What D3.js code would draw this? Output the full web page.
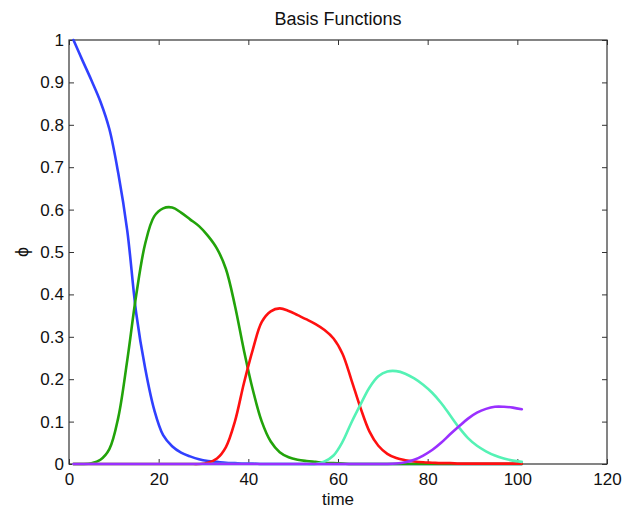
<!DOCTYPE html>
<html>
<head>
<meta charset="utf-8">
<script src="https://cdn.jsdelivr.net/npm/d3@7"></script>
<style>
  html, body { margin: 0; padding: 0; background: #fff; }
  svg { display: block; }
  text { font-family: "Liberation Sans", Arial, Helvetica, sans-serif; fill: #111; }
</style>
</head>
<body>
<svg id="chart" width="623" height="508"></svg>
<script>
// ---- data ----
const time = [1,3,5,7,9,11,13,15,17,19,21,23,25,27,29,31,33,35,37,39,41,43,45,47,49,51,53,55,57,59,61,63,65,67,69,71,73,75,77,79,81,83,85,87,89,91,93,95,97,99,101];
const phi1 = [1.0,0.952,0.905,0.855,0.79,0.685,0.55,0.355,0.225,0.128,0.068,0.042,0.027,0.018,0.011,0.007,0.005,0.003,0.002,0.001,0.001,0,0,0,0,0,0,0,0,0,0,0,0,0,0,0,0,0,0,0,0,0,0,0,0,0,0,0,0,0,0];
const phi2 = [0,0,0.002,0.01,0.035,0.11,0.245,0.399,0.52,0.584,0.603,0.605,0.593,0.577,0.561,0.538,0.508,0.46,0.374,0.269,0.175,0.10,0.053,0.028,0.016,0.01,0.007,0.005,0.003,0.002,0.001,0,0,0,0,0,0,0,0,0,0,0,0,0,0,0,0,0,0,0,0];
const phi3 = [0,0,0,0,0,0,0,0,0,0,0,0,0,0,0,0.003,0.013,0.04,0.10,0.19,0.27,0.335,0.36,0.367,0.361,0.351,0.341,0.33,0.316,0.296,0.26,0.198,0.133,0.077,0.043,0.024,0.014,0.009,0.006,0.004,0.003,0.002,0.002,0.001,0.001,0.001,0.001,0.001,0.001,0.001,0.001];
const phi4 = [0,0,0,0,0,0,0,0,0,0,0,0,0,0,0,0,0,0,0,0,0,0,0,0,0,0,0,0,0.006,0.02,0.052,0.098,0.14,0.18,0.207,0.218,0.219,0.213,0.202,0.187,0.168,0.144,0.115,0.086,0.061,0.043,0.03,0.02,0.013,0.008,0.005];
const phi5 = [0,0,0,0,0,0,0,0,0,0,0,0,0,0,0,0,0,0,0,0,0,0,0,0,0,0,0,0,0,0,0,0,0,0,0,0,0.001,0.004,0.01,0.02,0.033,0.05,0.07,0.089,0.107,0.121,0.13,0.135,0.135,0.133,0.129];
const seriesColors = ["#3040ff", "#22a30a", "#ff1010", "#55f2b5", "#9a30ff"];
const xTicks = [0,20,40,60,80,100,120];
const yTicks = [0,0.1,0.2,0.3,0.4,0.5,0.6,0.7,0.8,0.9,1];
const titleText = "Basis Functions";
const xLabel = "time";
const yLabel = "\u03D5";

// ---- layout ----
const mLeft = 69, mRight = 607, mTop = 40, mBottom = 464;
const svg = d3.select("#chart");
const x = d3.scaleLinear().domain([0, 120]).range([mLeft, mRight]);
const y = d3.scaleLinear().domain([0, 1]).range([mBottom, mTop]);

const axisColor = "#333";
const tickFont = 17;

function styleAxis(g) {
  g.select(".domain").remove();
  g.selectAll(".tick line").attr("stroke", axisColor).attr("stroke-width", 1);
  g.selectAll(".tick text").attr("font-size", tickFont).attr("fill", "#111")
    .attr("font-family", "'Liberation Sans', Arial, sans-serif");
}

// bottom axis
svg.append("g").attr("transform", `translate(0,${mBottom})`)
  .call(d3.axisBottom(x).tickValues(xTicks).tickFormat(d3.format("d")).tickSizeInner(-5).tickSizeOuter(0).tickPadding(9))
  .call(styleAxis);
// top axis (ticks only)
svg.append("g").attr("transform", `translate(0,${mTop})`)
  .call(d3.axisTop(x).tickValues(xTicks).tickFormat("").tickSizeInner(-5).tickSizeOuter(0))
  .call(styleAxis);
// left axis
svg.append("g").attr("transform", `translate(${mLeft},0)`)
  .call(d3.axisLeft(y).tickValues(yTicks).tickFormat(d => d === 0 || d === 1 ? d3.format("d")(d) : d3.format(".1f")(d)).tickSizeInner(-5).tickSizeOuter(0).tickPadding(5))
  .call(styleAxis);
// right axis (ticks only)
svg.append("g").attr("transform", `translate(${mRight},0)`)
  .call(d3.axisRight(y).tickValues(yTicks).tickFormat("").tickSizeInner(-5).tickSizeOuter(0))
  .call(styleAxis);

// box
svg.append("rect")
  .attr("x", mLeft).attr("y", mTop)
  .attr("width", mRight - mLeft).attr("height", mBottom - mTop)
  .attr("fill", "none").attr("stroke", axisColor).attr("stroke-width", 1.2);

// lines
const allSeries = [phi1, phi2, phi3, phi4, phi5];
const line = d3.line()
  .x((d, i) => x(time[i]))
  .y(d => y(Math.max(0, d)))
  .curve(d3.curveCatmullRom.alpha(0.5));

svg.append("g").selectAll("path")
  .data(allSeries)
  .join("path")
  .attr("d", d => line(d))
  .attr("fill", "none")
  .attr("stroke", (d, i) => seriesColors[i])
  .attr("stroke-width", 2.6)
  .attr("stroke-linejoin", "round")
  .attr("stroke-linecap", "round");

// title & labels
svg.append("text").attr("x", (mLeft + mRight) / 2).attr("y", 25)
  .attr("text-anchor", "middle").attr("font-size", 18).text(titleText);
svg.append("text").attr("x", (mLeft + mRight) / 2).attr("y", 505)
  .attr("text-anchor", "middle").attr("font-size", 17).text(xLabel);
svg.append("text")
  .attr("transform", `translate(28,${(mTop + mBottom) / 2}) rotate(-90)`)
  .attr("text-anchor", "middle").attr("font-size", 18).text(yLabel);
</script>
</body>
</html>
